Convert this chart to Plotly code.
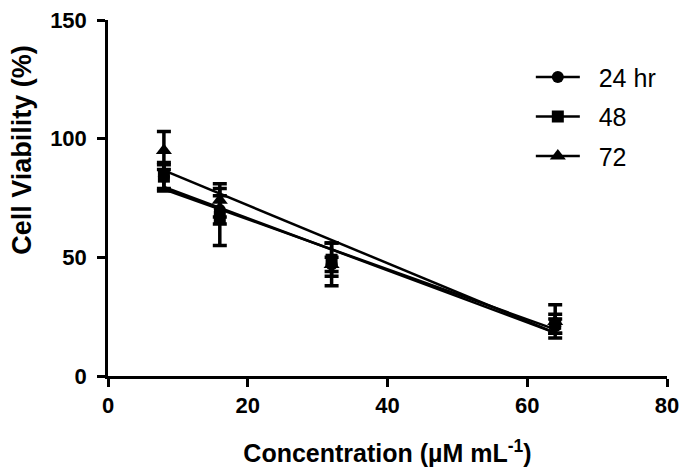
import numpy as np
import plotly.graph_objects as go

conc = [8, 16, 32, 64]
series_names = ["24 hr", "48", "72"]
via_24 = [84, 70, 47, 21]
err_24 = [5, 6, 3, 3]
via_48 = [84, 67, 49, 22]
err_48 = [6, 12, 7, 4]
via_72 = [95, 74, 47, 23]
err_72 = [8, 7, 9, 7]
symbols = ["circle", "square", "triangle-up"]

FONT = "Liberation Sans, Arial, sans-serif"

fig = go.Figure()
data = [(via_24, err_24), (via_48, err_48), (via_72, err_72)]
for name, (y, e), sym in zip(series_names, data, symbols):
    fig.add_trace(go.Scatter(
        x=conc, y=y, mode="markers",
        marker=dict(symbol=sym, size=12 if sym != "triangle-up" else 14, color="black"),
        error_y=dict(type="data", array=e, visible=True, color="black", thickness=3.5, width=7),
        showlegend=False))
    slope, intercept = np.polyfit(conc, y, 1)
    xs = [min(conc), max(conc)]
    fig.add_trace(go.Scatter(
        x=xs, y=[slope * v + intercept for v in xs], mode="lines",
        line=dict(color="black", width=2.5), showlegend=False))

for i, (name, sym) in enumerate(zip(series_names, symbols)):
    fig.add_trace(go.Scatter(
        x=[None], y=[None], mode="lines+markers", name="\u00a0\u00a0" + name,
        legendgroup=f"g{i}",
        marker=dict(symbol=sym, size=12 if sym != "triangle-up" else 14, color="black"),
        line=dict(color="black", width=2.5)))

axis_common = dict(
    showline=True, linecolor="black", linewidth=2.5, ticks="outside",
    tickcolor="black", tickwidth=2.5, ticklen=8, showgrid=False, zeroline=False,
    automargin=False, ticklabeloverflow="allow",
    tickfont=dict(family=FONT, size=22, color="black", weight="bold"),
)

fig.update_layout(
    width=694, height=470,
    margin=dict(l=100, r=35, t=12, b=102),
    plot_bgcolor="white", paper_bgcolor="white",
    xaxis=dict(range=[0, 80], tickvals=[0, 20, 40, 60, 80], ticklabelstandoff=0,
               title=dict(text="Concentration (µM mL<sup>-1</sup>)", standoff=28,
                          font=dict(family=FONT, size=25, color="black", weight="bold")),
               **axis_common),
    yaxis=dict(range=[0, 150], tickvals=[0, 50, 100, 150], ticklabelstandoff=6, **axis_common),
    annotations=[dict(text="Cell Viability (%)", textangle=-90, xref="paper", yref="paper",
                      x=-0.154, y=0.635, xanchor="center", yanchor="middle", showarrow=False,
                      font=dict(family=FONT, size=27, color="black", weight="bold"))],
    legend=dict(x=0.7564, y=0.904, xanchor="left", yanchor="top", traceorder="grouped",
                tracegroupgap=4, itemwidth=44, bgcolor="rgba(0,0,0,0)",
                font=dict(family=FONT, size=25, color="black")),
)

fig.write_html("out.html")
